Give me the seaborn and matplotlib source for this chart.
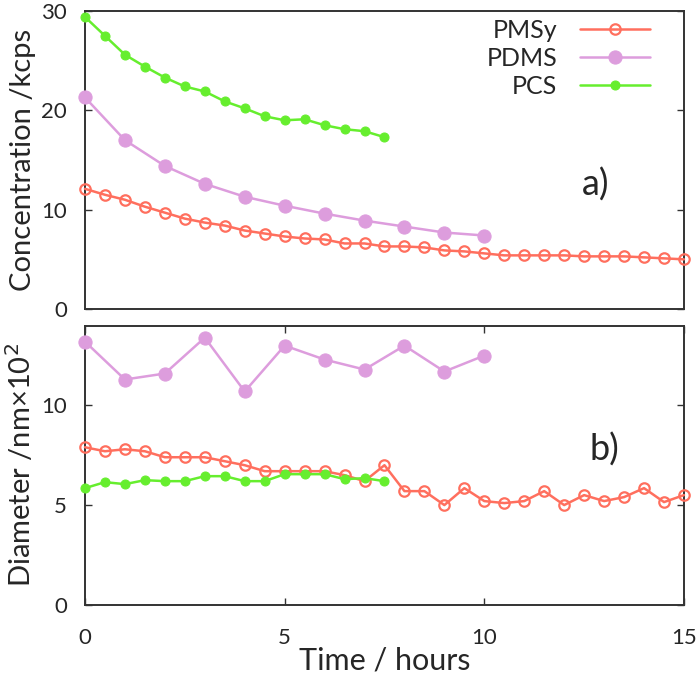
import numpy as np
import pandas as pd
import seaborn as sns
import matplotlib.pyplot as plt

# time axes (hours)
t_half_long = np.arange(0, 15.01, 0.5)   # PMSy
t_half_short = np.arange(0, 7.51, 0.5)   # PCS
t_hour = np.arange(0, 10.01, 1.0)        # PDMS

# concentration /kcps
conc_pmsy = [12.1, 11.5, 11.0, 10.3, 9.7, 9.1, 8.7, 8.4, 7.9, 7.6, 7.3, 7.1, 7.0, 6.6, 6.6, 6.3,
             6.3, 6.2, 5.9, 5.8, 5.6, 5.4, 5.4, 5.4, 5.4, 5.3, 5.3, 5.3, 5.2, 5.1, 5.0]
conc_pdms = [21.3, 17.0, 14.4, 12.6, 11.3, 10.4, 9.6, 8.9, 8.3, 7.7, 7.4]
conc_pcs = [29.4, 27.5, 25.6, 24.4, 23.3, 22.4, 21.9, 20.9, 20.2, 19.4, 19.0, 19.1, 18.5, 18.1, 17.9, 17.3]

# diameter /nm x 10^2
diam_pmsy = [7.9, 7.7, 7.8, 7.7, 7.4, 7.4, 7.4, 7.2, 7.0, 6.7, 6.7, 6.7, 6.7, 6.5, 6.2, 7.0,
             5.7, 5.7, 5.0, 5.85, 5.2, 5.1, 5.2, 5.7, 5.0, 5.5, 5.2, 5.4, 5.85, 5.15, 5.5]
diam_pdms = [13.2, 11.3, 11.6, 13.4, 10.7, 13.0, 12.3, 11.8, 13.0, 11.7, 12.5]
diam_pcs = [5.85, 6.15, 6.05, 6.25, 6.2, 6.2, 6.45, 6.45, 6.2, 6.2, 6.55, 6.55, 6.55, 6.3, 6.35, 6.2]

c_pmsy = "#ff6f5e"
c_pdms = "#dd9ddd"
c_pcs = "#66ee2e"

sns.set_style("ticks")
plt.rcParams['font.family'] = ['Lato', 'DejaVu Sans']

fig = plt.figure(figsize=(7, 6.75), dpi=100)
ax1 = fig.add_axes([0.1214, 0.5422, 0.8557, 0.4415])
ax2 = fig.add_axes([0.1214, 0.1041, 0.8557, 0.4134])


def draw(ax, pmsy, pdms, pcs, legend):
    sns.lineplot(x=t_half_long, y=pmsy, ax=ax, color=c_pmsy, linewidth=1.8, marker='o',
                 markersize=7.5, markerfacecolor='none', markeredgecolor=c_pmsy,
                 markeredgewidth=1.6, label='PMSy' if legend else None, clip_on=False, zorder=3)
    sns.lineplot(x=t_hour, y=pdms, ax=ax, color=c_pdms, linewidth=1.8, marker='o',
                 markersize=9.5, markerfacecolor=c_pdms, markeredgecolor=c_pdms,
                 label='PDMS' if legend else None, clip_on=False, zorder=3)
    sns.lineplot(x=t_half_short, y=pcs, ax=ax, color=c_pcs, linewidth=1.8, marker='o',
                 markersize=6.5, markerfacecolor=c_pcs, markeredgecolor=c_pcs,
                 label='PCS' if legend else None, clip_on=False, zorder=3)
    ax.set_xlim(0, 15)
    for s in ax.spines.values():
        s.set_color('#333333')
        s.set_linewidth(1.4)
    ax.tick_params(direction='in', top=True, right=True, length=5, width=1,
                   color='#333333', labelsize=16)
    ax.tick_params(axis='y', pad=13)
    ax.tick_params(axis='x', pad=17)


draw(ax1, conc_pmsy, conc_pdms, conc_pcs, True)
draw(ax2, diam_pmsy, diam_pdms, diam_pcs, False)

ax1.set_ylim(0, 30)
ax1.set_yticks([0, 10, 20, 30])
ax1.set_xticks([])
ax1.set_ylabel('Concentration /kcps', fontsize=21)
ax1.yaxis.set_label_coords(-0.082, 0.5)
ax1.text(12.8, 12.5, 'a)', fontsize=26, ha='center', va='center')
ax1.legend(loc='upper right', bbox_to_anchor=(0.955, 1.0), frameon=False, markerfirst=False,
           fontsize=18, handlelength=2.8, labelspacing=0.2, borderpad=0.3,
           borderaxespad=0, handletextpad=0.9)

ax2.set_ylim(0, 14)
ax2.set_yticks([0, 5, 10])
ax2.set_xticks([0, 5, 10, 15])
ax2.set_ylabel('Diameter /nm\u00d710$^2$', fontsize=21)
ax2.yaxis.set_label_coords(-0.082, 0.5)
ax2.set_xlabel('Time / hours', fontsize=22)
ax2.xaxis.set_label_coords(0.5, -0.148)
ax2.text(13.0, 7.8, 'b)', fontsize=26, ha='center', va='center')

fig.savefig('out.png', dpi=100)
